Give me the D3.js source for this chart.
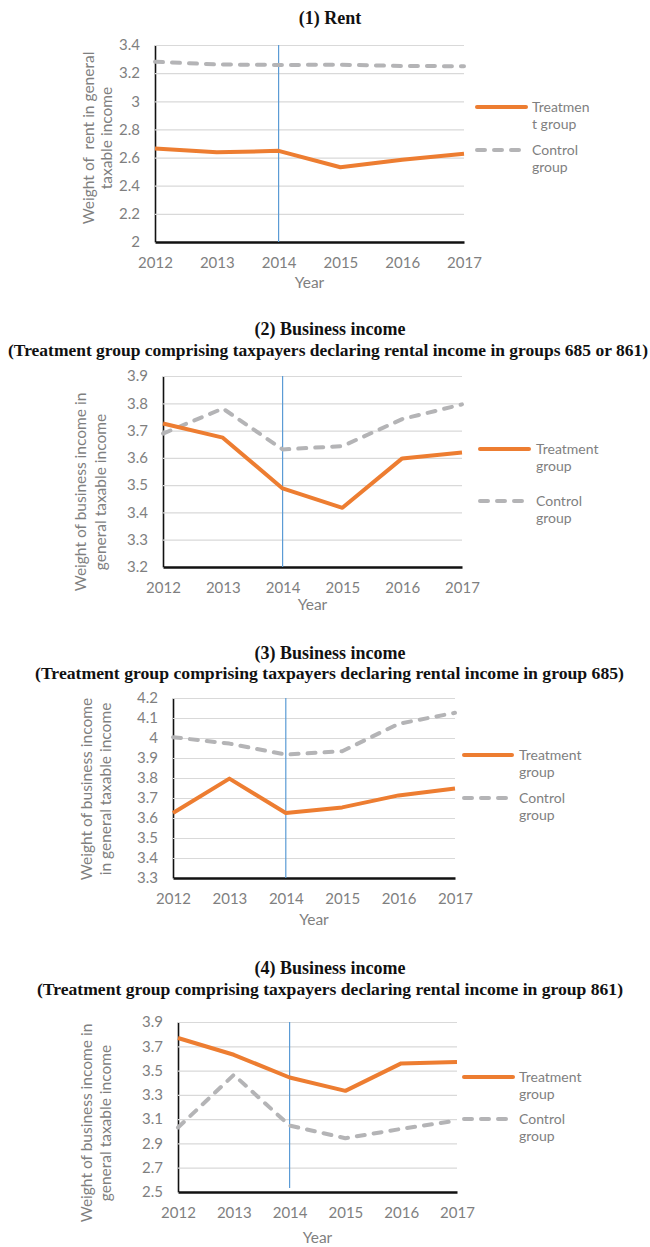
<!DOCTYPE html>
<html>
<head>
<meta charset="utf-8">
<script src="https://cdn.jsdelivr.net/npm/d3@7"></script>
<style>
  body { margin: 0; background: #fff; }
  text { white-space: pre; }
</style>
</head>
<body>
<div id="chart"></div>
<script>
const width = 650
const height = 1247

// data
const years = [2012, 2013, 2014, 2015, 2016, 2017]
const reform_year = 2014

const rent_treatment = [2.665, 2.637, 2.648, 2.531, 2.585, 2.627]
const rent_control = [3.281, 3.262, 3.258, 3.260, 3.251, 3.249]
const rent_ticks = [2, 2.2, 2.4, 2.6, 2.8, 3, 3.2, 3.4]

const business_all_treatment = [3.726, 3.674, 3.488, 3.417, 3.598, 3.620]
const business_all_control = [3.689, 3.781, 3.631, 3.643, 3.742, 3.796]
const business_all_ticks = [3.2, 3.3, 3.4, 3.5, 3.6, 3.7, 3.8, 3.9]

const business_685_treatment = [3.625, 3.797, 3.625, 3.653, 3.713, 3.747]
const business_685_control = [4.004, 3.972, 3.917, 3.934, 4.071, 4.126]
const business_685_ticks = [3.3, 3.4, 3.5, 3.6, 3.7, 3.8, 3.9, 4, 4.1, 4.2]

const business_861_treatment = [3.768, 3.630, 3.443, 3.333, 3.559, 3.570]
const business_861_control = [3.031, 3.465, 3.047, 2.943, 3.020, 3.089]
const business_861_ticks = [2.5, 2.7, 2.9, 3.1, 3.3, 3.5, 3.7, 3.9]

const titles = ['(1) Rent', '(2) Business income', '(3) Business income', '(4) Business income']
const subtitles = [
    null,
    '(Treatment group comprising taxpayers declaring rental income in groups 685 or 861)',
    '(Treatment group comprising taxpayers declaring rental income in group 685)',
    '(Treatment group comprising taxpayers declaring rental income in group 861)'
]
const y_titles = [
    ['Weight of  rent in general', 'taxable income'],
    ['Weight of business income in', 'general taxable income'],
    ['Weight of business income', 'in general taxable income'],
    ['Weight of business income in', 'general taxable income']
]
const legend_treatment = [['Treatmen', 't group'], ['Treatment', 'group'], ['Treatment', 'group'], ['Treatment', 'group']]
const legend_control = [['Control', 'group'], ['Control', 'group'], ['Control', 'group'], ['Control', 'group']]
const x_title = 'Year'

// styles
const color_treatment = '#ED7D31'
const color_control = '#B4B4B6'
const color_text = '#7F7F7F'
const color_grid = '#D9D9D9'
const color_reform = '#5B9BD5'
const font_sans = 'Lato, "Open Sans", sans-serif'
const font_serif = '"Liberation Serif", "DejaVu Serif", serif'

// layout of the four panels
const panels = [
    { treatment: rent_treatment, control: rent_control, ticks: rent_ticks,
      left: 155, right: 464, top: 45, bottom: 242,
      title_y: 24, sub_y: null, sub_x0: null, sub_x1: null,
      ytitle_x: [88.5, 107], ytitle_y: 138, year_y: 283,
      leg_x0: 475, leg_x1: 528, leg_tx: 532, leg_y: [107, 150], reform_bottom: null },
    { treatment: business_all_treatment, control: business_all_control, ticks: business_all_ticks,
      left: 163, right: 462, top: 376, bottom: 567,
      title_y: 335, sub_y: 356, sub_x0: 8, sub_x1: 648,
      ytitle_x: [81, 101], ytitle_y: 492, year_y: 605,
      leg_x0: 478, leg_x1: 531, leg_tx: 536, leg_y: [449, 501], reform_bottom: null },
    { treatment: business_685_treatment, control: business_685_control, ticks: business_685_ticks,
      left: 173, right: 455, top: 698, bottom: 878,
      title_y: 659, sub_y: 679, sub_x0: 35, sub_x1: 624,
      ytitle_x: [87, 106], ytitle_y: 789, year_y: 920,
      leg_x0: 462, leg_x1: 514, leg_tx: 519, leg_y: [755, 798], reform_bottom: null },
    { treatment: business_861_treatment, control: business_861_control, ticks: business_861_ticks,
      left: 178, right: 457, top: 1022, bottom: 1192,
      title_y: 974, sub_y: 995, sub_x0: 37, sub_x1: 623,
      ytitle_x: [87, 106], ytitle_y: 1123, year_y: 1238,
      leg_x0: 462, leg_x1: 515, leg_tx: 519, leg_y: [1077, 1119], reform_bottom: 1188 }
]

const svg = d3.select('#chart')
    .append('svg')
    .attr('width', width)
    .attr('height', height)

panels.forEach((p, i) => draw_panel(svg, p, i))

function fmt(v) {
    return String(+v.toFixed(1))
}

function draw_panel(svg, p, i) {
    const g = svg.append('g')

    const x = d3.scalePoint()
        .domain(years)
        .range([p.left, p.right])
    const y = d3.scaleLinear()
        .domain([p.ticks[0], p.ticks[p.ticks.length - 1]])
        .range([p.bottom, p.top])

    // titles
    g.append('text')
        .attr('x', 330)
        .attr('y', p.title_y)
        .attr('text-anchor', 'middle')
        .attr('font-family', font_serif)
        .attr('font-weight', 'bold')
        .attr('font-size', 18)
        .attr('fill', '#111')
        .text(titles[i])
    if (subtitles[i]) {
        g.append('text')
            .attr('x', p.sub_x0)
            .attr('y', p.sub_y)
            .attr('font-family', font_serif)
            .attr('font-weight', 'bold')
            .attr('font-size', 16.5)
            .attr('fill', '#111')
            .attr('textLength', p.sub_x1 - p.sub_x0)
            .attr('lengthAdjust', 'spacingAndGlyphs')
            .text(subtitles[i])
    }

    // y axis with gridlines
    const y_axis = g.append('g')
        .attr('transform', `translate(${p.left},0)`)
        .call(d3.axisLeft(y)
            .tickValues(p.ticks)
            .tickFormat(fmt)
            .tickSize(-(p.right - p.left))
            .tickSizeOuter(0)
            .tickPadding(15))
    y_axis.selectAll('.tick line')
        .attr('stroke', color_grid)
        .attr('stroke-width', 1.2)
    y_axis.selectAll('.tick text')
        .attr('fill', color_text)
        .attr('font-family', font_sans)
        .attr('font-size', 15)
    y_axis.select('.domain')
        .attr('stroke', '#111')
        .attr('stroke-width', 1.6)

    // x axis
    const x_axis = g.append('g')
        .attr('transform', `translate(0,${p.bottom})`)
        .call(d3.axisBottom(x)
            .tickSize(0)
            .tickPadding(15))
    x_axis.selectAll('.tick text')
        .attr('fill', color_text)
        .attr('font-family', font_sans)
        .attr('font-size', 15)
    x_axis.select('.domain')
        .attr('stroke', '#111')
        .attr('stroke-width', 2.4)
    x_axis.selectAll('.tick line').remove()

    // reform year marker
    g.append('line')
        .attr('x1', x(reform_year))
        .attr('x2', x(reform_year))
        .attr('y1', p.top)
        .attr('y2', p.reform_bottom || p.bottom)
        .attr('stroke', color_reform)
        .attr('stroke-width', 1.2)

    // series
    const line = d3.line()
        .x((d, j) => x(years[j]))
        .y(d => y(d))
    g.append('path')
        .attr('d', line(p.control))
        .attr('fill', 'none')
        .attr('stroke', color_control)
        .attr('stroke-width', 4)
        .attr('stroke-dasharray', '8,9')
        .attr('stroke-linecap', 'round')
        .attr('stroke-linejoin', 'round')
    g.append('path')
        .attr('d', line(p.treatment))
        .attr('fill', 'none')
        .attr('stroke', color_treatment)
        .attr('stroke-width', 4)
        .attr('stroke-linejoin', 'round')

    // axis titles
    const yt = g.append('g')
        .attr('font-family', font_sans)
        .attr('font-size', 15.5)
        .attr('fill', color_text)
    y_titles[i].forEach((s, k) => {
        yt.append('text')
            .attr('transform', `translate(${p.ytitle_x[k]},${p.ytitle_y}) rotate(-90)`)
            .attr('text-anchor', 'middle')
            .attr('dy', '0.35em')
            .text(s)
    })
    g.append('text')
        .attr('x', (p.left + p.right) / 2)
        .attr('y', p.year_y)
        .attr('dy', '0.35em')
        .attr('text-anchor', 'middle')
        .attr('font-family', font_sans)
        .attr('font-size', 15.5)
        .attr('fill', color_text)
        .text(x_title)

    // legend
    const legend = [
        { lines: legend_treatment[i], color: color_treatment, dash: null },
        { lines: legend_control[i], color: color_control, dash: '8,9' }
    ]
    legend.forEach((d, k) => {
        const ly = p.leg_y[k]
        const l = g.append('line')
            .attr('x1', p.leg_x0 + 2)
            .attr('x2', p.leg_x1 - 2)
            .attr('y1', ly)
            .attr('y2', ly)
            .attr('stroke', d.color)
            .attr('stroke-width', 4)
            .attr('stroke-linecap', 'round')
        if (d.dash) {
            l.attr('stroke-dasharray', d.dash)
        }
        d.lines.forEach((s, n) => {
            g.append('text')
                .attr('x', p.leg_tx)
                .attr('y', ly + n * 17.5)
                .attr('dy', '0.35em')
                .attr('font-family', font_sans)
                .attr('font-size', 14)
                .attr('fill', color_text)
                .text(s)
        })
    })
}
</script>
</body>
</html>
